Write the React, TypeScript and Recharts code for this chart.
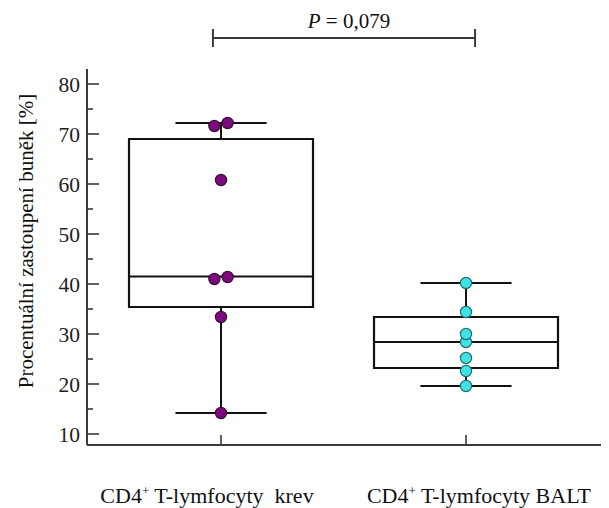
import React from 'react';
import {
  ScatterChart,
  Scatter,
  XAxis,
  YAxis,
  ReferenceArea,
  ReferenceLine,
  Label,
} from 'recharts';

// ---- data -------------------------------------------------------------
const categories = ['CD4⁺ T-lymfocyty  krev', 'CD4⁺ T-lymfocyty BALT'];
const categoryPositions = [1, 2];

// individual measurements (% of cells)
const bloodValues = [14.2, 33.4, 41.0, 41.4, 60.8, 71.6, 72.2];
const baltValues = [19.6, 22.6, 25.2, 28.4, 30.0, 34.4, 40.2];

// box-plot summaries, one entry per category
const whiskerLow = [14.2, 19.6];
const quartile1 = [35.4, 23.2];
const medians = [41.5, 28.4];
const quartile3 = [69.0, 33.4];
const whiskerHigh = [72.2, 40.2];

const yTickValues = [10, 15, 20, 25, 30, 35, 40, 45, 50, 55, 60, 65, 70, 75, 80];
const yDomain = [7.8, 83];
const xDomain = [0.453, 2.551];

const yAxisTitle = 'Procentuální zastoupení buněk [%]';
const pValueLabel = 'P = 0,079';
const comparisonLevel = 89.2;

// ---- styling ----------------------------------------------------------
const FONT = '"Liberation Serif", "Times New Roman", Times, serif';
const AXIS = '#3a3a3a';
const INK = '#111';
const BOX_HALF = 0.3755;
const CAP_HALF = 0.186;
const DODGE = 0.027;
const BRACKET_END = 1.8;

// spread points with nearly identical values side by side
function swarm(values: number[], center: number) {
  const sorted = [...values].sort((a, b) => a - b);
  const pts: { x: number; y: number }[] = [];
  for (let i = 0; i < sorted.length; i++) {
    const v = sorted[i];
    if (i + 1 < sorted.length && sorted[i + 1] - v < 1) {
      pts.push({ x: center - DODGE, y: v });
      pts.push({ x: center + DODGE, y: sorted[i + 1] });
      i++;
    } else {
      pts.push({ x: center, y: v });
    }
  }
  return pts;
}

const bloodPoints = swarm(bloodValues, categoryPositions[0]);
const baltPoints = swarm(baltValues, categoryPositions[1]);

const dot = (fill: string, stroke: string) => (props: any) => (
  <circle cx={props.cx} cy={props.cy} r={5.6} fill={fill} stroke={stroke} strokeWidth={1.2} />
);

const YTick = (props: any) => {
  const { x, y, payload } = props;
  const v = payload.value;
  const major = v % 10 === 0;
  return (
    <g>
      <line x1={x} x2={x + (major ? 12 : 6)} y1={y} y2={y} stroke={AXIS} strokeWidth={1.6} />
      {major && (
        <text
          x={x - 7}
          y={y}
          dy="0.35em"
          textAnchor="end"
          fontFamily={FONT}
          fontSize={21.5}
          fill="#222"
        >
          {v}
        </text>
      )}
    </g>
  );
};

const LABEL_SHIFT = [-14, 13];

const XTick = (props: any) => {
  const { x, y, payload } = props;
  const i = categoryPositions.indexOf(payload.value);
  const [pre, post] = categories[i].split('⁺');
  return (
    <g>
      <line x1={x} x2={x} y1={y} y2={y - 10} stroke={AXIS} strokeWidth={1.6} />
      <text
        x={x + LABEL_SHIFT[i]}
        y={y + 58}
        textAnchor="middle"
        fontFamily={FONT}
        fontSize={22}
        fill="#111"
        style={{ whiteSpace: 'pre' }}
      >
        {pre}
        <tspan fontSize={13} dy={-8}>+</tspan>
        <tspan dy={8}>{post}</tspan>
      </text>
    </g>
  );
};

const renderYTitle = (props: any) => {
  const vb = props.viewBox || { x: 0, y: 69, width: 87, height: 376 };
  const cx = vb.x + 33;
  const cy = vb.y + vb.height / 2 - 16;
  return (
    <text
      x={cx}
      y={cy}
      transform={`rotate(-90, ${cx}, ${cy})`}
      textAnchor="middle"
      fontFamily={FONT}
      fontSize={21}
      fill="#111"
    >
      {yAxisTitle}
    </text>
  );
};

const renderPValue = (props: any) => {
  const vb = props.viewBox;
  const cx = vb.x + vb.width / 2 + 5;
  const [sym, ...rest] = pValueLabel.split(' ');
  return (
    <text
      x={cx}
      y={vb.y - 10}
      textAnchor="middle"
      fontFamily={FONT}
      fontSize={21}
      fill="#111"
      style={{ whiteSpace: 'pre' }}
    >
      <tspan fontStyle="italic">{sym}</tspan>
      {' ' + rest.join(' ')}
    </text>
  );
};

export default function App() {
  const bracketLeft = categoryPositions[0] - 0.033;
  const bracketRight = categoryPositions[1] + 0.037;

  return (
    <div style={{ position: 'absolute', left: 0, top: 0, width: 609, height: 508, background: '#fff' }}>
      <ScatterChart width={609} height={508} margin={{ top: 69, right: 8, bottom: 0, left: 0 }}>
        <XAxis
          type="number"
          dataKey="x"
          domain={xDomain}
          ticks={categoryPositions}
          allowDataOverflow
          interval={0}
          height={63}
          tickSize={0}
          tickMargin={0}
          tickLine={false}
          tick={<XTick />}
          axisLine={{ stroke: AXIS, strokeWidth: 2 }}
        />
        <YAxis
          type="number"
          dataKey="y"
          domain={yDomain}
          ticks={yTickValues}
          allowDataOverflow
          interval={0}
          width={87}
          tickSize={0}
          tickMargin={0}
          tickLine={false}
          tick={<YTick />}
          axisLine={{ stroke: AXIS, strokeWidth: 2 }}
        >
          <Label content={renderYTitle} />
        </YAxis>

        {categoryPositions.map((c, i) => (
          <ReferenceLine
            key={`wh-up-${i}`}
            segment={[{ x: c, y: quartile3[i] }, { x: c, y: whiskerHigh[i] }]}
            stroke={INK}
            strokeWidth={2}
            ifOverflow="visible"
          />
        ))}
        {categoryPositions.map((c, i) => (
          <ReferenceLine
            key={`wh-lo-${i}`}
            segment={[{ x: c, y: quartile1[i] }, { x: c, y: whiskerLow[i] }]}
            stroke={INK}
            strokeWidth={2}
            ifOverflow="visible"
          />
        ))}
        {categoryPositions.map((c, i) => (
          <ReferenceLine
            key={`cap-up-${i}`}
            segment={[{ x: c - CAP_HALF, y: whiskerHigh[i] }, { x: c + CAP_HALF, y: whiskerHigh[i] }]}
            stroke={INK}
            strokeWidth={2}
            ifOverflow="visible"
          />
        ))}
        {categoryPositions.map((c, i) => (
          <ReferenceLine
            key={`cap-lo-${i}`}
            segment={[{ x: c - CAP_HALF, y: whiskerLow[i] }, { x: c + CAP_HALF, y: whiskerLow[i] }]}
            stroke={INK}
            strokeWidth={2}
            ifOverflow="visible"
          />
        ))}
        {categoryPositions.map((c, i) => (
          <ReferenceArea
            key={`box-${i}`}
            x1={c - BOX_HALF}
            x2={c + BOX_HALF}
            y1={quartile1[i]}
            y2={quartile3[i]}
            fill="none"
            fillOpacity={0}
            stroke={INK}
            strokeWidth={2.2}
            ifOverflow="visible"
          />
        ))}
        {categoryPositions.map((c, i) => (
          <ReferenceLine
            key={`med-${i}`}
            segment={[{ x: c - BOX_HALF, y: medians[i] }, { x: c + BOX_HALF, y: medians[i] }]}
            stroke={INK}
            strokeWidth={2}
            ifOverflow="visible"
          />
        ))}

        {/* significance bracket */}
        <ReferenceLine
          segment={[{ x: bracketLeft, y: comparisonLevel }, { x: bracketRight, y: comparisonLevel }]}
          stroke={AXIS}
          strokeWidth={2}
          ifOverflow="visible"
          label={{ content: renderPValue }}
        />
        <ReferenceLine
          segment={[
            { x: bracketLeft, y: comparisonLevel - BRACKET_END },
            { x: bracketLeft, y: comparisonLevel + BRACKET_END },
          ]}
          stroke={AXIS}
          strokeWidth={2}
          ifOverflow="visible"
        />
        <ReferenceLine
          segment={[
            { x: bracketRight, y: comparisonLevel - BRACKET_END },
            { x: bracketRight, y: comparisonLevel + BRACKET_END },
          ]}
          stroke={AXIS}
          strokeWidth={2}
          ifOverflow="visible"
        />

        <Scatter data={bloodPoints} shape={dot('#7d0a7d', '#3a0a3a')} isAnimationActive={false} />
        <Scatter data={baltPoints} shape={dot('#3fe3e3', '#1f6f74')} isAnimationActive={false} />
      </ScatterChart>
    </div>
  );
}
